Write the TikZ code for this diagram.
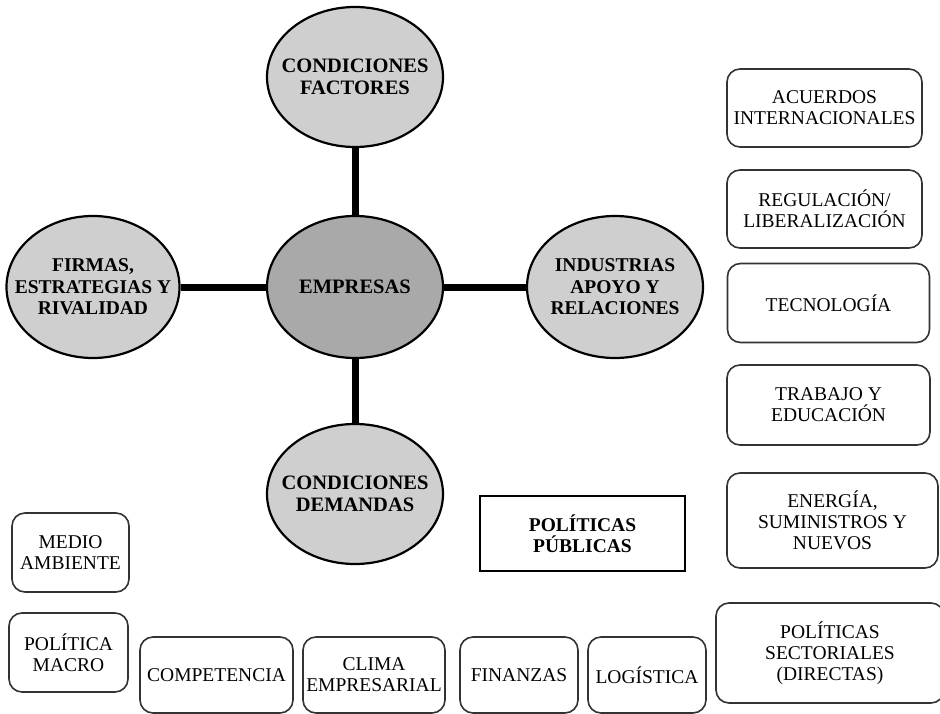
\documentclass[tikz,border=0pt]{standalone}
\usepackage{fontspec}
\setmainfont{Liberation Serif}
\usepackage{xcolor}
\usetikzlibrary{shapes.geometric}

\definecolor{ringgray}{HTML}{CFCFCF}
\definecolor{coregray}{HTML}{A9A9A9}

\begin{document}
\begin{tikzpicture}[
    x=1pt, y=-1pt,
    force ellipse/.style={
        ellipse,
        draw=black,
        line width=2.2pt,
        fill=ringgray,
        minimum width=176pt,
        minimum height=140pt,
        inner xsep=-25pt,  % el texto ancho no debe agrandar la elipse
        inner ysep=0pt,
        align=center,
        font=\bfseries\fontsize{20.5}{22}\selectfont
    },
    core ellipse/.style={force ellipse, fill=coregray},
    side ellipse/.style={force ellipse, minimum height=142pt, font=\bfseries\fontsize{19.5}{21.5}\selectfont},
    policy box/.style={
        draw=black!80,
        line width=1.6pt,
        rounded corners=13pt,
        inner sep=0pt,
        align=center,
        font=\fontsize{19.5}{21}\selectfont
    },
    title box/.style={
        policy box,
        sharp corners,
        draw=black,
        line width=2pt,
        font=\bfseries\fontsize{19.5}{21}\selectfont
    },
    link/.style={line width=7pt}
]
    \useasboundingbox (0,0) rectangle (940,714);

    % diamante: las cinco elipses
    \node[force ellipse] (factores) at (355,77) {CONDICIONES\\FACTORES};
    \node[core ellipse, minimum height=142pt] (empresas) at (355,287) {EMPRESAS};
    \node[side ellipse, minimum width=173pt] (firmas) at (93,287) {FIRMAS,\\ESTRATEGIAS Y\\RIVALIDAD};
    \node[side ellipse] (industrias) at (615,287) {INDUSTRIAS\\APOYO Y\\RELACIONES};
    \node[force ellipse] (demandas) at (355,494) {CONDICIONES\\DEMANDAS};

    \draw[link] (factores) -- (empresas);
    \draw[link] (empresas) -- (demandas);
    \draw[link] (firmas) -- (empresas);
    \draw[link] (empresas) -- (industrias);

    % columna derecha
    \node[policy box, minimum width=195pt, minimum height=78pt] (acuerdos) at (824.5,108) {ACUERDOS\\INTERNACIONALES};
    \node[policy box, minimum width=195pt, minimum height=78pt] (regulacion) at (824.5,209) {REGULACIÓN/\\LIBERALIZACIÓN};
    \node[policy box, minimum width=202pt, minimum height=79pt] (tecnologia) at (828.5,303) {TECNOLOGÍA};
    \node[policy box, minimum width=203pt, minimum height=80pt] (trabajo) at (828.5,405) {TRABAJO Y\\EDUCACIÓN};
    \node[policy box, minimum width=211pt, minimum height=95pt] (energia) at (832.5,520.5) {ENERGÍA,\\SUMINISTROS Y\\NUEVOS};
    \node[policy box, minimum width=228pt, minimum height=100pt] (sectoriales) at (830,653) {POLÍTICAS\\SECTORIALES\\(DIRECTAS)};

    \node[title box, minimum width=205pt, minimum height=75pt] (publicas) at (582.5,533.5) {POLÍTICAS\\PÚBLICAS};

    % fila inferior
    \node[policy box, minimum width=117pt, minimum height=79pt] (medio) at (70.5,552.5) {MEDIO\\AMBIENTE};
    \node[policy box, minimum width=119pt, minimum height=79pt] (macro) at (68.5,652.5) {POLÍTICA\\MACRO};
    \node[policy box, minimum width=153pt, minimum height=76pt] (competencia) at (216.5,675) {COMPETENCIA};
    \node[policy box, minimum width=142pt, minimum height=76pt] (clima) at (374,675) {CLIMA\\EMPRESARIAL};
    \node[policy box, minimum width=118pt, minimum height=76pt] (finanzas) at (519,675) {FINANZAS};
    \node[policy box, minimum width=118pt, minimum height=76pt] (logistica) at (647,675) {LOGÍSTICA};
\end{tikzpicture}
\end{document}
